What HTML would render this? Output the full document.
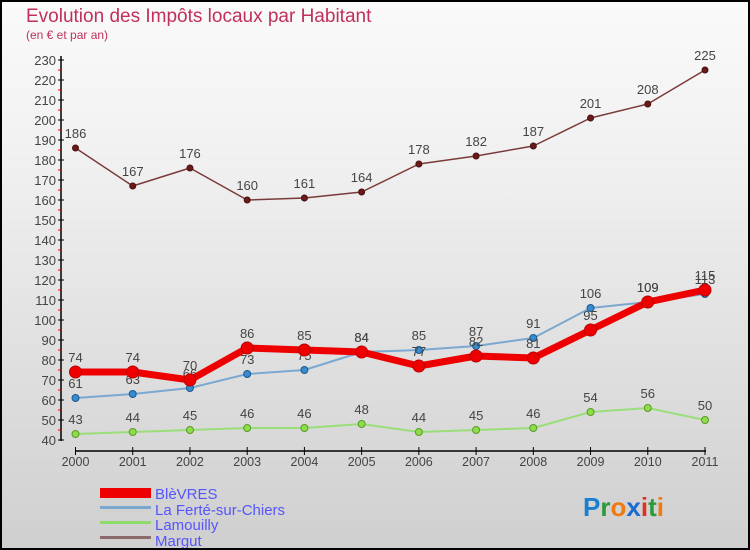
<!DOCTYPE html>
<html><head><meta charset="utf-8"><style>
html,body{margin:0;padding:0}
body{width:750px;height:550px;overflow:hidden;font-family:"Liberation Sans",sans-serif}
#wrap{position:relative;width:746px;height:546px;border:2px solid #000;background:linear-gradient(#fafafa,#f0f0f0 30%,#cfcfcf)}
</style></head><body>
<div id="wrap">
<svg id="chart" width="746" height="546" viewBox="2 2 746 546" style="position:absolute;left:0;top:0">
<text x="26" y="22" font-size="19" fill="#c0305a">Evolution des Impôts locaux par Habitant</text>
<text x="26" y="39" font-size="12" fill="#c0305a">(en € et par an)</text>
<g id="axes"></g><g id="series"></g>
<g>
<rect x="100" y="488" width="51" height="10" fill="#e00"/>
<text x="155" y="499" font-size="15" fill="#55f">BlèVRES</text>
<rect x="100" y="506" width="51" height="3" fill="#7aa8d0"/>
<text x="155" y="515" font-size="15" fill="#55f">La Ferté-sur-Chiers</text>
<rect x="100" y="521" width="51" height="3" fill="#8fdc6a"/>
<text x="155" y="530" font-size="15" fill="#55f">Lamouilly</text>
<rect x="100" y="536" width="51" height="3" fill="#8a6a6a"/>
<text x="155" y="546" font-size="15" fill="#55f">Margut</text>
</g>
<text x="583" y="516" font-size="26" font-weight="bold"><tspan fill="#1a7fd0">P</tspan><tspan fill="#2a9a3a">r</tspan><tspan fill="#f07a10">o</tspan><tspan fill="#1a6ad0">x</tspan><tspan fill="#e03020">i</tspan><tspan fill="#2a9a3a">t</tspan><tspan fill="#f07a10">i</tspan></text>
</svg>
</div>
<script>
const years=[2000,2001,2002,2003,2004,2005,2006,2007,2008,2009,2010,2011];
const yTicks=[40,50,60,70,80,90,100,110,120,130,140,150,160,170,180,190,200,210,220,230];
const bievres=[74,74,70,86,85,84,77,82,81,95,109,115];
const ferte=[61,63,66,73,75,84,85,87,91,106,109,113];
const lamouilly=[43,44,45,46,46,48,44,45,46,54,56,50];
const margut=[186,167,176,160,161,164,178,182,187,201,208,225];
const NS="http://www.w3.org/2000/svg";
function xs(i){return 75.5+i*(705-75.5)/(years.length-1);}
function ys(v){return 440-(v-40)*(440-60)/190;}
function mk(tag,attrs,parent){const e=document.createElementNS(NS,tag);for(const k in attrs)e.setAttribute(k,attrs[k]);parent.appendChild(e);return e;}
const ax=document.getElementById('axes');
let yl=mk('line',{x1:61,y1:56,x2:61,y2:441,stroke:'#000','stroke-width':1.5},ax);


let xl=mk('line',{x1:75,y1:451,x2:706,y2:451,stroke:'#000','stroke-width':1.5},ax);


yTicks.forEach((v,i)=>{
  mk('line',{x1:58,x2:64,y1:ys(v),y2:ys(v),stroke:'#000'},ax);
  if(i<yTicks.length-1)mk('line',{x1:58,x2:61,y1:ys(v+5),y2:ys(v+5),stroke:'#e00'},ax);
  const t=mk('text',{x:56,y:ys(v)+5,'text-anchor':'end','font-size':13,fill:'#444'},ax);
  t.textContent=v;
  
  
});
years.forEach((y,i)=>{
  mk('line',{x1:xs(i),x2:xs(i),y1:447,y2:455,stroke:'#000'},ax);
  const t=mk('text',{x:xs(i),y:466,'text-anchor':'middle','font-size':12.5,fill:'#444'},ax);
  t.textContent=y;
  
  
});
const sg=document.getElementById('series');
function draw(data,name,color,lw,r,fill,stroke){
  const g=mk('g',{},sg);
  
  
  const p=mk('polyline',{points:data.map((v,i)=>xs(i)+','+ys(v)).join(' '),fill:'none',stroke:color,'stroke-width':lw,'stroke-linejoin':'round'},g);
  
  
  data.forEach((v,i)=>{
    const c=mk('circle',{cx:xs(i),cy:ys(v),r:r,fill:fill,stroke:stroke,'stroke-width':1},g);
    
    
    const t=mk('text',{x:xs(i),y:ys(v)-10,'text-anchor':'middle','font-size':13,fill:'#444'},g);
    t.textContent=v;
    
    
  });
}
draw(margut,'margut','#7a3a3a',1.5,3,'#6a1a1a','#4a1010');
draw(lamouilly,'lamouilly','#9ade7a',2,3.5,'#8fdc4a','#5a9a2a');
draw(ferte,'ferte','#7aa8d0',2,3.5,'#3a8ad0','#1a5a90');
draw(bievres,'bievres','#ee0000',7,6,'#ee0000','#b00');
</script>
</body></html>
